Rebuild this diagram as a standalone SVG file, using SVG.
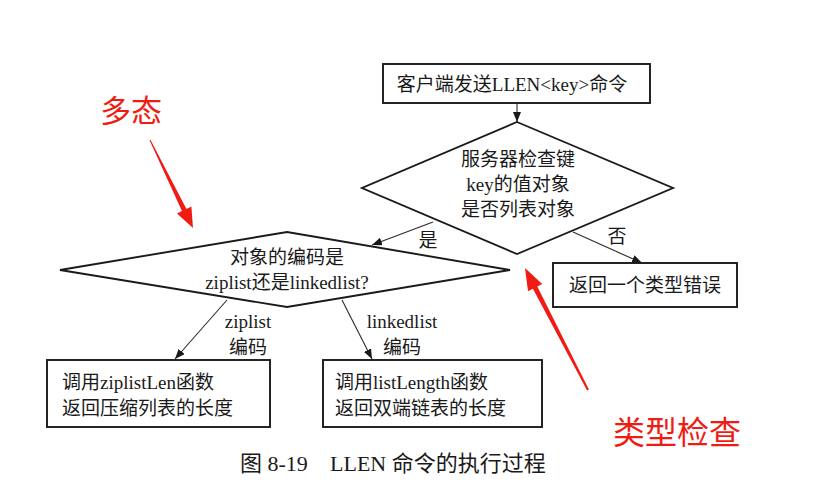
<svg xmlns="http://www.w3.org/2000/svg" width="833" height="494" viewBox="0 0 833 494">
<style>
.shape{fill:#fff;stroke:#1a1a1a;stroke-width:1.9}
.conn{fill:none;stroke:#2a2a2a;stroke-width:1.1}
.t{font-family:"Liberation Serif","Noto Sans CJK SC",serif;font-size:19px;fill:#1a1a1a}
.cap{font-size:22px}
.m{text-anchor:middle}
.red{font-family:"Noto Sans CJK SC","Liberation Sans",sans-serif;fill:#f01c14}
.redarrow{fill:#f01c14;stroke:none}
</style>
<defs>
<marker id="ah" markerUnits="userSpaceOnUse" markerWidth="10" markerHeight="8" refX="10" refY="4" orient="auto">
<path d="M0,0 L10,4 L0,8 z" fill="#1a1a1a"/>
</marker>
</defs>
<rect width="833" height="494" fill="#fff"/>
<g id="connectors">
<line class="conn" x1="517" y1="103" x2="517" y2="122" marker-end="url(#ah)"/>
<line class="conn" x1="433" y1="222" x2="372" y2="245" marker-end="url(#ah)"/>
<line class="conn" x1="573" y1="232" x2="642" y2="263" marker-end="url(#ah)"/>
<line class="conn" x1="227" y1="300" x2="175" y2="359" marker-end="url(#ah)"/>
<line class="conn" x1="342" y1="300" x2="372" y2="359" marker-end="url(#ah)"/>
<text class="t m" x="428" y="247">是</text>
<text class="t m" x="617" y="243">否</text>
<text class="t m" x="248" y="328">ziplist</text>
<text class="t m" x="248" y="354">编码</text>
<text class="t m" x="402" y="328">linkedlist</text>
<text class="t m" x="402" y="354">编码</text>
</g>
<g id="start">
<rect class="shape" x="383" y="64" width="267" height="39"/>
<text class="t m" x="512" y="91">客户端发送LLEN&lt;key&gt;命令</text>
</g>
<g id="check-type">
<polygon class="shape" points="517,122 673,188 517,254 362,188"/>
<text class="t m" x="518" y="166">服务器检查键</text>
<text class="t m" x="518" y="191">key的值对象</text>
<text class="t m" x="518" y="216">是否列表对象</text>
</g>
<g id="type-error">
<rect class="shape" x="553" y="263" width="184" height="44"/>
<text class="t m" x="645" y="292">返回一个类型错误</text>
</g>
<g id="check-encoding">
<polygon class="shape" points="287,232 510,270 287,307 60,270"/>
<text class="t m" x="287" y="264">对象的编码是</text>
<text class="t m" x="287" y="289">ziplist还是linkedlist?</text>
</g>
<g id="ziplist-len">
<rect class="shape" x="47" y="360" width="223" height="67"/>
<text class="t" x="62" y="389">调用ziplistLen函数</text>
<text class="t" x="62" y="415">返回压缩列表的长度</text>
</g>
<g id="list-length">
<rect class="shape" x="323" y="360" width="219" height="67"/>
<text class="t" x="335" y="389">调用listLength函数</text>
<text class="t" x="335" y="415">返回双端链表的长度</text>
</g>
<g id="caption">
<text class="t cap" x="240" y="471">图 8-19</text>
<text class="t cap" x="330" y="471">LLEN 命令的执行过程</text>
</g>
<g id="annotation-polymorphism">
<text class="red" x="100" y="122" style="font-size:31px">多态</text>
<polygon class="redarrow" points="149.55,140.22 181.95,211.1 177,213.5 193,228 191.4,206.5 186.45,208.9 150.45,139.78"/>
</g>
<g id="annotation-typecheck">
<text class="red" x="613" y="444" style="font-size:32px">类型检查</text>
<polygon class="redarrow" points="588.9,389.5 537.3,286.45 542.2,283.9 525,268 528,291.3 532.9,288.75 587.1,390.5"/>
</g>
</svg>
